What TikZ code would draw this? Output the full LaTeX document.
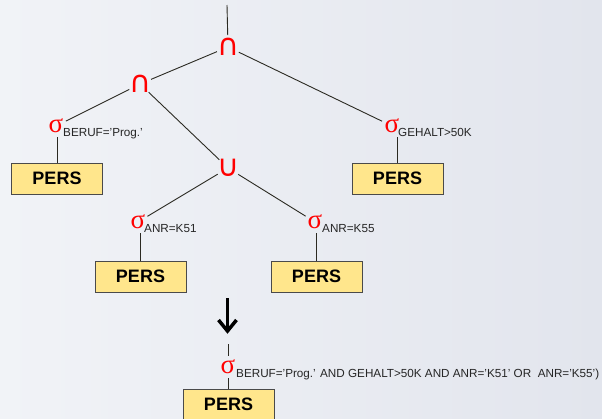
\documentclass[tikz,border=0pt]{standalone}
\usepackage{fontspec}
\setmainfont{Liberation Sans}
\newfontfamily\symfont{DejaVu Sans}
\newfontfamily\sigfont{Liberation Serif}
\usetikzlibrary{arrows.meta}
\definecolor{bgA}{HTML}{F1F3F7}
\definecolor{bgB}{HTML}{E2E5ED}
\definecolor{edgecol}{HTML}{2B2A22}
\definecolor{boxfill}{HTML}{FFE68C}
\definecolor{boxline}{HTML}{4A4A4A}
\newcommand{\ctrglyph}[1]{\makebox[0pt]{\smash{\raisebox{-.5\height}{#1}}}}
\tikzset{
  op/.style={circle, minimum size=24pt, inner sep=0pt, outer sep=0pt, text=red, font=\symfont\fontsize{30}{30}\selectfont},
  sig/.style={circle, minimum size=22pt, inner sep=0pt, outer sep=0pt, text=red, font=\sigfont\fontsize{27}{27}\selectfont},
  cond/.style={anchor=base west, font=\fontsize{11.7}{12}\selectfont, text=black!85, inner sep=0pt},
  rel/.style={draw=boxline, fill=boxfill, line width=0.9pt, minimum width=91pt, minimum height=31pt, inner sep=0pt, font=\fontsize{18}{18}\selectfont\bfseries},
  edge/.style={draw=edgecol, line width=0.9pt},
  bigarrow/.style={draw=black, line width=3.5pt},
  arrowhead/.style={draw=black, line width=3.5pt, line join=miter, line cap=butt}
}
\begin{document}
\begin{tikzpicture}[x=1pt,y=-1pt]
\shade[left color=bgA, right color=bgB] (0,0) rectangle (602,418);
\useasboundingbox (0,0) rectangle (602,418);
% operators
\node[op] (cap1) at (228,47) {\ctrglyph{∩}};
\node[op] (cap2) at (140,84) {\ctrglyph{∩}};
\node[op] (cup) at (228,168) {\ctrglyph{∪}};
% selections
\node[sig] (s1) at (56,126) {\ctrglyph{σ}};
\node[cond] (c1) at (63,136) {BERUF='Prog.'};
\node[sig] (s2) at (392,126) {\ctrglyph{σ}};
\node[cond] (c2) at (398,136) {GEHALT>50K};
\node[sig] (s3) at (138,222) {\ctrglyph{σ}};
\node[cond] (c3) at (144,232) {ANR=K51};
\node[sig] (s4) at (315,222) {\ctrglyph{σ}};
\node[cond] (c4) at (322,232) {ANR=K55};
\node[sig] (s5) at (228,367) {\ctrglyph{σ}};
\node[cond] (c5) at (236,377) {BERUF='Prog.' AND GEHALT>50K AND ANR='K51' OR\ \ ANR='K55')};
% relations
\node[rel] (p1) at (57,178.5) {PERS};
\node[rel] (p2) at (397.5,178.5) {PERS};
\node[rel] (p3) at (140.5,276.5) {PERS};
\node[rel] (p4) at (316.5,276.5) {PERS};
\node[rel] (p5) at (228.5,404.5) {PERS};
% coordinates
\coordinate (top) at (227,5);
\coordinate (atop) at (227.5,298);
\coordinate (abot) at (227.5,331);
\coordinate (aleft) at (218.5,320);
\coordinate (aright) at (236.5,320);
\coordinate (ltop) at (228,344);
% edges
\draw[edge] (top) -- (cap1);
\draw[edge] (cap1) -- (cap2);
\draw[edge] (cap1) -- (s2);
\draw[edge] (cap2) -- (s1);
\draw[edge] (cap2) -- (cup);
\draw[edge] (cup) -- (s3);
\draw[edge] (cup) -- (s4);
\draw[edge] (p1.north |- s1.south) -- (p1.north);
\draw[edge] (p2.north |- s2.south) -- (p2.north);
\draw[edge] (p3.north |- s3.south) -- (p3.north);
\draw[edge] (p4.north |- s4.south) -- (p4.north);
\draw[edge] (ltop) -- (s5);
\draw[edge] (p5.north |- s5.south) -- (p5.north);
\draw[bigarrow] (atop) -- (abot);
\draw[arrowhead] (aleft) -- (abot) -- (aright);
\end{tikzpicture}
\end{document}
